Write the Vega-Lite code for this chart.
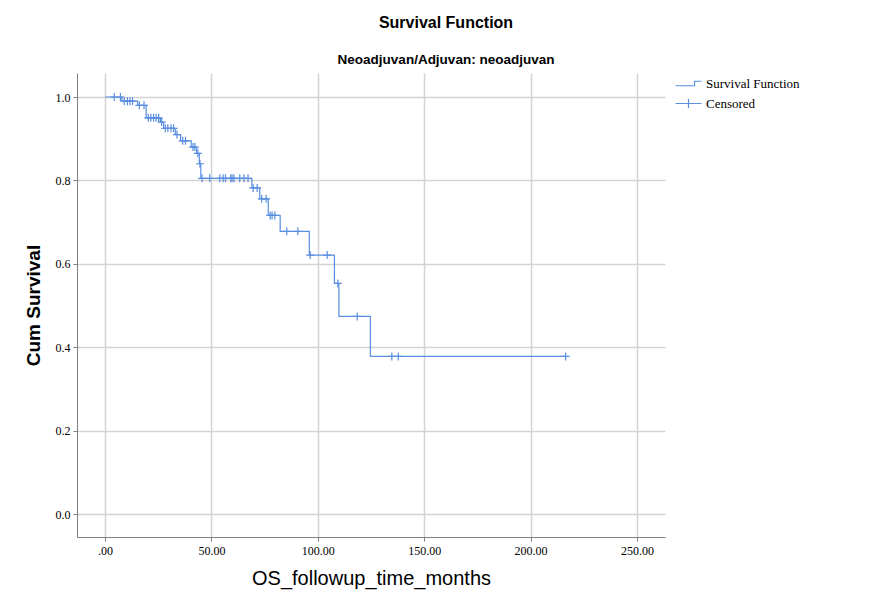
{
  "$schema": "https://vega.github.io/schema/vega-lite/v6.json",
  "width": 588,
  "height": 464,
  "autosize": {"type": "none"},
  "padding": {"left": 77, "top": 73, "right": 215, "bottom": 77},
  "background": "white",
  "title": {
    "text": "Survival Function",
    "subtitle": "Neoadjuvan/Adjuvan: neoadjuvan",
    "anchor": "middle",
    "frame": "group",
    "dx": 75,
    "offset": 7,
    "font": "Liberation Sans",
    "fontSize": 16,
    "fontWeight": "bold",
    "color": "#000000",
    "subtitleFont": "Liberation Sans",
    "subtitleFontSize": 13.5,
    "subtitleFontWeight": "bold",
    "subtitleColor": "#000000",
    "subtitlePadding": 22
  },
  "datasets": {
    "steps": [
      {"time": 0, "survival": 1.0},
      {"time": 7.9, "survival": 0.99},
      {"time": 15.3, "survival": 0.98},
      {"time": 19.3, "survival": 0.95},
      {"time": 26.0, "survival": 0.94},
      {"time": 27.5, "survival": 0.925},
      {"time": 33.0, "survival": 0.91},
      {"time": 35.5, "survival": 0.895},
      {"time": 40.5, "survival": 0.88},
      {"time": 43.0, "survival": 0.865},
      {"time": 44.3, "survival": 0.84},
      {"time": 45.0, "survival": 0.805},
      {"time": 69.0, "survival": 0.782},
      {"time": 72.7, "survival": 0.756},
      {"time": 76.7, "survival": 0.716},
      {"time": 82.3, "survival": 0.678},
      {"time": 96.0, "survival": 0.621},
      {"time": 107.8, "survival": 0.553},
      {"time": 109.9, "survival": 0.474},
      {"time": 124.7, "survival": 0.378},
      {"time": 216.5, "survival": 0.378}
    ],
    "censors": [
      {"time": 4.3, "survival": 1.0, "series": "Censored"},
      {"time": 7.2, "survival": 1.0, "series": "Censored"},
      {"time": 9.0, "survival": 0.99, "series": "Censored"},
      {"time": 10.5, "survival": 0.99, "series": "Censored"},
      {"time": 11.7, "survival": 0.99, "series": "Censored"},
      {"time": 12.9, "survival": 0.99, "series": "Censored"},
      {"time": 16.1, "survival": 0.98, "series": "Censored"},
      {"time": 18.3, "survival": 0.98, "series": "Censored"},
      {"time": 20.3, "survival": 0.95, "series": "Censored"},
      {"time": 21.5, "survival": 0.95, "series": "Censored"},
      {"time": 22.8, "survival": 0.95, "series": "Censored"},
      {"time": 24.0, "survival": 0.95, "series": "Censored"},
      {"time": 25.2, "survival": 0.95, "series": "Censored"},
      {"time": 26.6, "survival": 0.94, "series": "Censored"},
      {"time": 28.3, "survival": 0.925, "series": "Censored"},
      {"time": 29.5, "survival": 0.925, "series": "Censored"},
      {"time": 31.0, "survival": 0.925, "series": "Censored"},
      {"time": 32.2, "survival": 0.925, "series": "Censored"},
      {"time": 33.8, "survival": 0.91, "series": "Censored"},
      {"time": 36.5, "survival": 0.895, "series": "Censored"},
      {"time": 37.8, "survival": 0.895, "series": "Censored"},
      {"time": 41.3, "survival": 0.88, "series": "Censored"},
      {"time": 42.2, "survival": 0.88, "series": "Censored"},
      {"time": 43.6, "survival": 0.865, "series": "Censored"},
      {"time": 44.6, "survival": 0.84, "series": "Censored"},
      {"time": 45.6, "survival": 0.805, "series": "Censored"},
      {"time": 49.2, "survival": 0.805, "series": "Censored"},
      {"time": 53.9, "survival": 0.805, "series": "Censored"},
      {"time": 55.5, "survival": 0.805, "series": "Censored"},
      {"time": 56.6, "survival": 0.805, "series": "Censored"},
      {"time": 59.1, "survival": 0.805, "series": "Censored"},
      {"time": 59.7, "survival": 0.805, "series": "Censored"},
      {"time": 60.6, "survival": 0.805, "series": "Censored"},
      {"time": 63.3, "survival": 0.805, "series": "Censored"},
      {"time": 65.3, "survival": 0.805, "series": "Censored"},
      {"time": 67.2, "survival": 0.805, "series": "Censored"},
      {"time": 69.6, "survival": 0.782, "series": "Censored"},
      {"time": 71.5, "survival": 0.782, "series": "Censored"},
      {"time": 73.6, "survival": 0.756, "series": "Censored"},
      {"time": 75.7, "survival": 0.756, "series": "Censored"},
      {"time": 77.6, "survival": 0.716, "series": "Censored"},
      {"time": 78.5, "survival": 0.716, "series": "Censored"},
      {"time": 79.8, "survival": 0.716, "series": "Censored"},
      {"time": 85.4, "survival": 0.678, "series": "Censored"},
      {"time": 90.6, "survival": 0.678, "series": "Censored"},
      {"time": 96.4, "survival": 0.621, "series": "Censored"},
      {"time": 104.4, "survival": 0.621, "series": "Censored"},
      {"time": 109.4, "survival": 0.553, "series": "Censored"},
      {"time": 118.5, "survival": 0.474, "series": "Censored"},
      {"time": 134.8, "survival": 0.378, "series": "Censored"},
      {"time": 137.8, "survival": 0.378, "series": "Censored"},
      {"time": 216.5, "survival": 0.378, "series": "Censored"}
    ]
  },
  "encoding": {
    "x": {
      "field": "time",
      "type": "quantitative",
      "scale": {"domain": [-13.2, 263.2], "nice": false, "zero": false},
      "axis": {
        "title": "OS_followup_time_months",
        "values": [0, 50, 100, 150, 200, 250],
        "labelExpr": "datum.value == 0 ? '.00' : format(datum.value, '.2f')",
        "grid": true,
        "gridColor": "#d3d3d3",
        "gridWidth": 1.5,
        "domainColor": "#7f7f7f",
        "tickColor": "#7f7f7f",
        "tickSize": 4,
        "labelFont": "Liberation Serif",
        "labelFontSize": 12,
        "labelColor": "#000000",
        "labelPadding": 4,
        "titleFont": "Liberation Sans",
        "titleFontSize": 20,
        "titleFontWeight": "normal",
        "titleColor": "#000000",
        "titlePadding": 12
      }
    },
    "y": {
      "field": "survival",
      "type": "quantitative",
      "scale": {"domain": [-0.055, 1.0576], "nice": false, "zero": false},
      "axis": {
        "title": "Cum Survival",
        "values": [0, 0.2, 0.4, 0.6, 0.8, 1.0],
        "format": ".1f",
        "grid": true,
        "gridColor": "#d3d3d3",
        "gridWidth": 1.5,
        "domainColor": "#7f7f7f",
        "tickColor": "#7f7f7f",
        "tickSize": 4,
        "labelFont": "Liberation Serif",
        "labelFontSize": 12,
        "labelColor": "#000000",
        "labelPadding": 3,
        "titleFont": "Liberation Sans",
        "titleFontSize": 19,
        "titleFontWeight": "bold",
        "titleColor": "#000000",
        "titlePadding": 12
      }
    }
  },
  "layer": [
    {
      "data": {"name": "steps"},
      "mark": {"type": "line", "interpolate": "step-after", "color": "#5a8ee0", "strokeWidth": 1.2}
    },
    {
      "data": {"name": "censors"},
      "mark": {"type": "point", "filled": false, "color": "#5a8ee0", "strokeWidth": 1.2, "size": 64, "opacity": 1, "shape": "M-1,0L1,0M0,-1L0,1"}
    },
    {
      "data": {"name": "censors"},
      "mark": {"type": "point", "filled": false, "color": "#5a8ee0", "strokeWidth": 1.2, "size": 4, "opacity": 0},
      "encoding": {
        "shape": {
          "field": "series",
          "type": "nominal",
          "scale": {
            "domain": ["Survival Function", "Censored"],
            "range": ["M-2.6,0.45L1.2,0.45L1.2,-0.45L2.6,-0.45", "M-2.6,0L2.6,0M0,-0.9L0,0.9"]
          },
          "legend": {
            "title": null,
            "orient": "right",
            "offset": 13,
            "symbolSize": 100,
            "symbolStrokeColor": "#5a8ee0",
            "symbolStrokeWidth": 1.2,
            "symbolFillColor": "transparent",
            "symbolOpacity": 1,
            "labelFont": "Liberation Serif",
            "labelFontSize": 13,
            "labelColor": "#000000",
            "labelOffset": 11,
            "rowPadding": 5,
            "padding": 4
          }
        }
      }
    }
  ],
  "config": {
    "view": {"stroke": null},
    "axis": {"domainWidth": 1}
  }
}
